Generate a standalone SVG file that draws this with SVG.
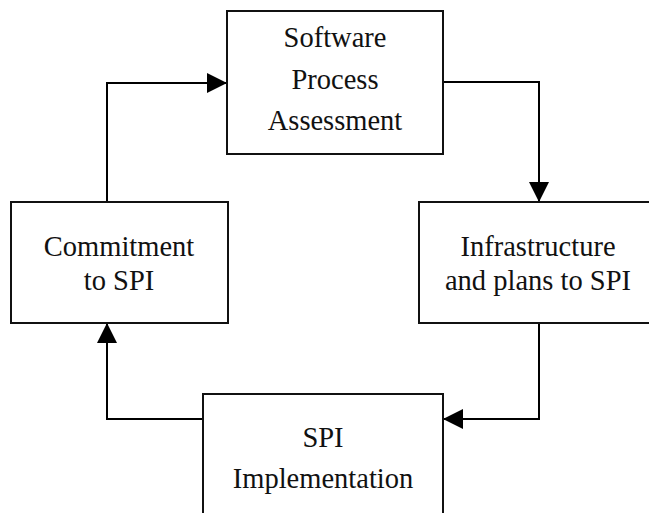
<svg xmlns="http://www.w3.org/2000/svg" width="649" height="513" viewBox="0 0 649 513">
  <style>
    .box { fill: #ffffff; stroke: #111111; stroke-width: 2; }
    .lbl { font-family: "Liberation Serif", "Times New Roman", serif; font-size: 28.5px; fill: #111111; text-anchor: middle; }
    .edge { fill: none; stroke: #000000; stroke-width: 2; marker-end: url(#arrow); }
  </style>
  <defs>
    <marker id="arrow" markerUnits="userSpaceOnUse" markerWidth="20" markerHeight="20" refX="20" refY="10" orient="auto">
      <path d="M0,0 L20,10 L0,20 z" fill="#000000"/>
    </marker>
  </defs>
  <rect width="649" height="513" fill="#ffffff"/>

  <!-- cycle of four elbow connectors -->
  <g id="edges">
    <path class="edge" d="M107,202 V83 H227"/>
    <path class="edge" d="M443,82 H539 V202"/>
    <path class="edge" d="M539,323 V419 H443"/>
    <path class="edge" d="M203,419 H107 V323"/>
  </g>

  <g id="assessment">
    <rect class="box" x="227" y="11" width="216" height="143"/>
    <text class="lbl" x="335" y="47">Software</text>
    <text class="lbl" x="335" y="89">Process</text>
    <text class="lbl" x="335" y="130">Assessment</text>
  </g>

  <g id="commitment">
    <rect class="box" x="11" y="202" width="217" height="121"/>
    <text class="lbl" x="119" y="256">Commitment</text>
    <text class="lbl" x="119" y="290">to SPI</text>
  </g>

  <g id="infrastructure">
    <rect class="box" x="419" y="202" width="240" height="121"/>
    <text class="lbl" x="538" y="256">Infrastructure</text>
    <text class="lbl" x="538" y="290">and plans to SPI</text>
  </g>

  <g id="implementation">
    <rect class="box" x="203" y="394" width="240" height="130"/>
    <text class="lbl" x="323" y="447">SPI</text>
    <text class="lbl" x="323" y="488">Implementation</text>
  </g>
</svg>
